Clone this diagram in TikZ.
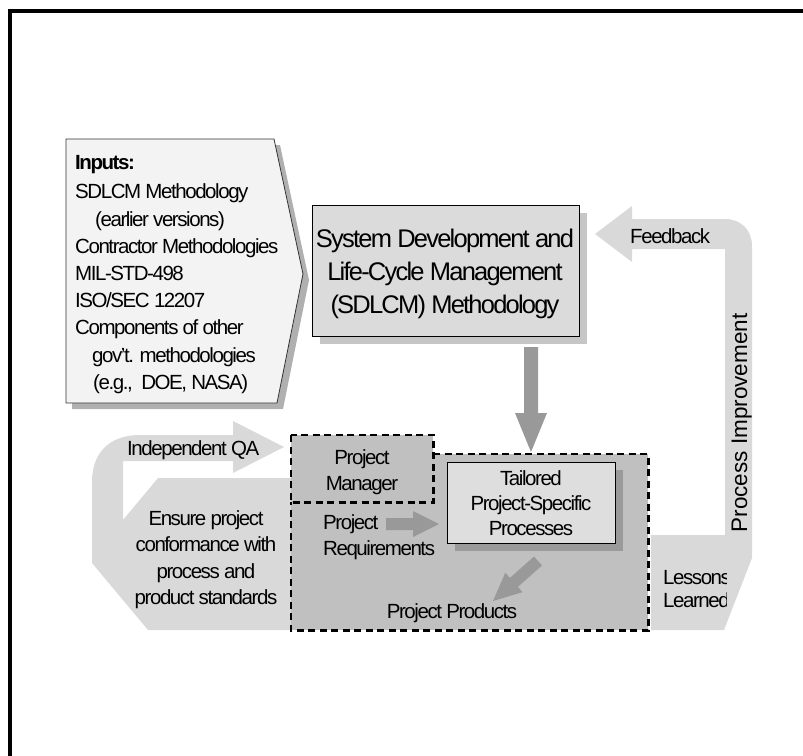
\documentclass[tikz,border=0pt]{standalone}
\usepackage{fontspec}
\setmainfont{Liberation Sans}[LetterSpace=-7]
\usetikzlibrary{calc,shadows}

\definecolor{loopgray}{HTML}{D9D9D9}
\definecolor{regiongray}{HTML}{C0C0C0}
\definecolor{inputfill}{HTML}{F3F3F3}
\definecolor{inputshadow}{HTML}{B0B0B0}
\definecolor{boxfill}{HTML}{DBDBDB}
\definecolor{boxshadow}{HTML}{C6C6C6}
\definecolor{procfill}{HTML}{DEDEDE}
\definecolor{procshadow}{HTML}{9A9A9A}
\definecolor{arrowgray}{HTML}{999999}

% block arrow: tail, tip, half shaft width, half head width, head length
\newcommand\blockarr[5]{%
  \coordinate (bhb) at ($(#2)!#5!(#1)$);
  \fill[arrowgray] ($(#1)!#3!90:(#2)$) -- ($(bhb)!#3!90:(#2)$) -- ($(bhb)!#4!90:(#2)$)
    -- (#2) -- ($(bhb)!#4!-90:(#2)$) -- ($(bhb)!#3!-90:(#2)$) -- ($(#1)!#3!-90:(#2)$) -- cycle;}

\begin{document}
\begin{tikzpicture}[x=1pt,y=-1pt,
  txt/.style={font=\fontsize{20.5}{26}\selectfont, inner sep=0pt},
  dashline/.style={draw=black, line width=2.5pt, dash pattern=on 7pt off 4.5pt},
  boxline/.style={draw=black, line width=1.1pt}]
\useasboundingbox (0,0) rectangle (803,755);

% outer frame
\draw[line width=4pt] (10,770) -- (10,11) -- (820,11);

% quality assurance loop on the left
\fill[loopgray] (284,447) -- (233,421) -- (233,435) -- (140,435)
  .. controls (110,435) and (92,452) .. (92,482) -- (92,563) -- (148,630)
  -- (291,630) -- (291,478) -- (158,478) -- (123,520) -- (123,461)
  -- (233,461) -- (233,473) -- cycle;

% process improvement loop on the right
\fill[loopgray] (595,234) -- (632,206) -- (632,219) -- (725,219)
  .. controls (741,219) and (752,230) .. (752,246) -- (752,558) -- (724,630)
  -- (651,630) -- (651,535) -- (725,535) -- (725,249) -- (632,249)
  -- (632,262) -- cycle;

% inputs pentagon
\fill[inputshadow] (72,145) -- (280,145) -- (309,280) -- (283,409) -- (72,409) -- cycle;
\filldraw[fill=inputfill, draw=black!80, line width=0.8pt]
  (66,139) -- (274,139) -- (303,274) -- (277,403) -- (66,403) -- cycle;
\node[font=\fontsize{20.5}{27.2}\selectfont, inner sep=0pt, anchor=north west, align=left]
  (inputs) at (75,155.3)
  {\textbf{Inputs:}\\[2pt]
   SDLCM Methodology\\
   \hspace*{20pt}(earlier versions)\\
   Contractor Methodologies\\
   MIL-STD-498\\
   ISO/SEC 12207\\
   Components of other\\
   \hspace*{17pt}gov't. methodologies\\
   \hspace*{18pt}(e.g.,\ \ DOE, NASA)};

% SDLCM methodology box
\node[boxline, fill=boxfill, minimum width=267pt, minimum height=131pt, anchor=north west,
  inner sep=0pt, drop shadow={shadow xshift=7pt, shadow yshift=-7pt, fill=boxshadow, opacity=1}]
  (sdlcm) at (312,205) {};
\node[font=\fontsize{25.5}{33}\selectfont, inner sep=0pt, align=center, anchor=north]
  (sdlcmtxt) at (445,228.7)
  {System Development and\\Life-Cycle Management\\(SDLCM) Methodology};

% project area (dashed)
\node[fill=regiongray, minimum width=357pt, minimum height=176pt, anchor=north west, inner sep=0pt]
  (region) at (291,454) {};
\node[fill=regiongray, minimum width=142pt, minimum height=67pt, anchor=north west, inner sep=0pt]
  (mgr) at (291,435) {};
\draw[dashline] (mgr.north west) rectangle (mgr.south east);
\draw[dashline] (mgr.north east |- region.north) -- (region.north east)
  -- (region.south east) -- (region.south west) -- (mgr.south west);

% tailored processes box
\node[boxline, fill=procfill, minimum width=168pt, minimum height=81pt, anchor=north west,
  inner sep=0pt, drop shadow={shadow xshift=7pt, shadow yshift=-7pt, fill=procshadow, opacity=1}]
  (proc) at (447,462) {};
\node[txt, align=center, anchor=north, font=\fontsize{20.5}{25}\selectfont]
  (proctxt) at (531,470.3) {Tailored\\Project-Specific\\Processes};

% block arrows
\coordinate (downtail) at (531,347);
\coordinate (downtip) at (531,452);
\blockarr{downtail}{downtip}{7pt}{16pt}{39pt}
\coordinate (reqtail) at (386,524);
\coordinate (reqtip) at (439,524);
\blockarr{reqtail}{reqtip}{6pt}{13pt}{26pt}
\coordinate (prodtail) at (538,561);
\coordinate (prodtip) at (493,601);
\blockarr{prodtail}{prodtip}{6pt}{13pt}{28pt}

% labels
\node[txt, anchor=base west] (qa) at (127,455) {Independent QA};
\node[txt, align=center, anchor=north, font=\fontsize{20.5}{26.5}\selectfont] (ensure) at (206,510.3)
  {Ensure project\\conformance with\\process and\\product standards};
\node[txt, align=center, anchor=north] (mgrtxt) at (362,449.3) {Project\\Manager};
\node[txt, align=left, anchor=north west] (reqtxt) at (323,514.3) {Project\\Requirements};
\node[txt, anchor=base] (products) at (452,618) {Project Products};
\node[txt, anchor=base west] (fb) at (630,243) {Feedback};
\node[font=\fontsize{22.5}{27}\selectfont\addfontfeatures{LetterSpace=0}, rotate=90,
  anchor=base, inner sep=0pt] (pi) at (747,423) {Process Improvement};
\begin{scope}
  \clip (651,535) rectangle (726,630);
  \node[txt, align=left, anchor=north west, font=\fontsize{20.5}{23}\selectfont]
    (lessons) at (663,570.3) {Lessons\\Learned};
\end{scope}
\end{tikzpicture}
\end{document}
